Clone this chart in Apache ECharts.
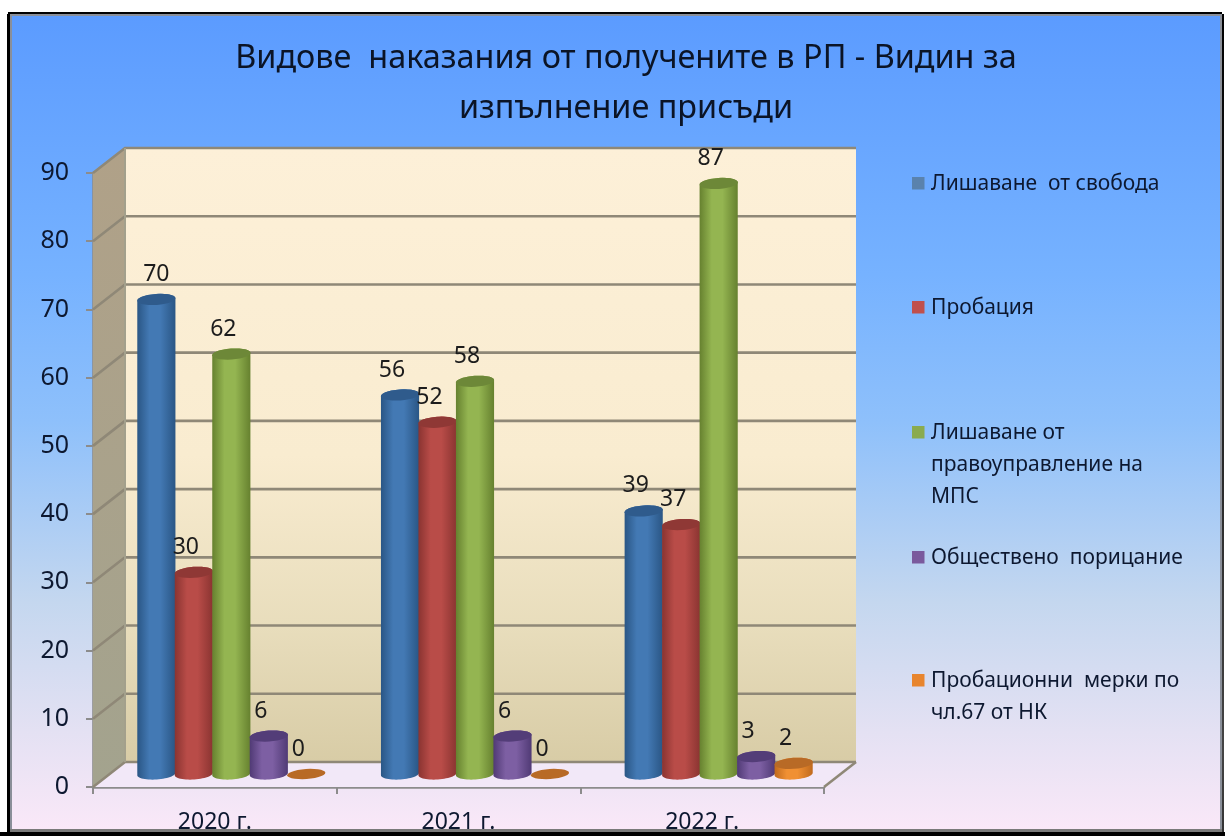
<!DOCTYPE html>
<html><head><meta charset="utf-8">
<style>html,body{margin:0;padding:0;background:#fff}#c{width:1225px;height:836px}</style>
<script src="https://cdn.jsdelivr.net/npm/echarts@6/dist/echarts.min.js"></script>
</head><body><div id="c"></div>
<script>
const titleLines = ['Видове  наказания от получените в РП - Видин за', 'изпълнение присъди'];
const categories = ['2020 г.', '2021 г.', '2022 г.'];
const yTicks = [0, 10, 20, 30, 40, 50, 60, 70, 80, 90];
const seriesNames = ['Лишаване  от свобода', 'Пробация', 'Лишаване от\nправоуправление на\nМПС', 'Обществено  порицание', 'Пробационни  мерки по\nчл.67 от НК'];
const deprivation = [70, 56, 39];
const probation = [30, 52, 37];
const licence = [62, 58, 87];
const censure = [6, 6, 3];
const measures = [0, 0, 2];
const allValues = [deprivation, probation, licence, censure, measures];

const palette = [
  {edge:'#2a5685', mid:'#4379b4', top:'#2f5b8c', key:'#5a82ad'},
  {edge:'#8a3431', mid:'#b94c48', top:'#8f3835', key:'#c0504d'},
  {edge:'#66812f', mid:'#94b551', top:'#6d8838', key:'#8aab4f'},
  {edge:'#503a75', mid:'#7d5fa3', top:'#533d78', key:'#7a5a9d'},
  {edge:'#c06a1e', mid:'#f09033', top:'#b86a26', key:'#e8852e'}
];
const legendY = [183, 307, 432, 557, 680];
const DX = 32, DY = 25;

function arc(cx, cy, rx, ry, tilt, a0, a1) {
  const pts = [], n = 28;
  for (let i = 0; i <= n; i++) {
    const a = a0 + (a1 - a0) * i / n;
    const x = rx * Math.cos(a), y = ry * Math.sin(a);
    pts.push([cx + x * Math.cos(tilt) - y * Math.sin(tilt), cy + x * Math.sin(tilt) + y * Math.cos(tilt)]);
  }
  return pts;
}

function renderWalls(params, api) {
  const cs = params.coordSys;
  const L = cs.x, R = cs.x + cs.width;
  const y0 = api.coord([0, 0])[1], yT = api.coord([0, 90])[1];
  const kids = [
    {type:'polygon', shape:{points:[[L+DX,yT-DY],[R+DX,yT-DY],[R+DX,y0-DY],[L+DX,y0-DY]]},
     style:{fill:{type:'linear',x:0,y:0,x2:0,y2:1,colorStops:[{offset:0,color:'#fdf0d8'},{offset:.5,color:'#f9ecd0'},{offset:.78,color:'#e8ddbc'},{offset:1,color:'#d8cca6'}]}}},
    {type:'polygon', shape:{points:[[L,yT],[L+DX,yT-DY],[L+DX,y0-DY],[L,y0]]},
     style:{fill:{type:'linear',x:0,y:0,x2:0,y2:1,colorStops:[{offset:0,color:'#b0a188'},{offset:1,color:'#a3a38e'}]}}},
    {type:'polygon', shape:{points:[[L,y0],[R,y0],[R+DX,y0-DY],[L+DX,y0-DY]]},
     style:{fill:'#f2e8f8'}}
  ];
  const lineStyle = {stroke:'#8f8877', lineWidth:2.6};
  yTicks.forEach(function (t) {
    const y = api.coord([0, t])[1];
    kids.push({type:'polyline', shape:{points:[[L,y],[L+DX,y-DY],[R+DX,y-DY]]}, style:Object.assign({fill:null}, lineStyle)});
  });
  kids.push({type:'line', shape:{x1:R,y1:y0,x2:R+DX,y2:y0-DY}, style:lineStyle});
  kids.push({type:'line', shape:{x1:L+DX,y1:yT-DY,x2:L+DX,y2:y0-DY}, style:{stroke:'#a3a08c',lineWidth:2}});
  return {type:'group', children:kids};
}

function makeCylinder(si) {
  return function (params, api) {
    const cat = api.value(0), val = api.value(1);
    const p = api.coord([cat, val]), b = api.coord([cat, 0]);
    const step = api.size([1, 0])[0] / 6.5;
    const cx = p[0] + DX / 2 + (si - 2) * step + 0.5;
    const botY = b[1] - DY / 2 - 0.5;
    const topY = val > 0 ? p[1] - DY / 2 + 2.5 : botY;
    const rx = step * 0.51, ry = 5.5, tilt = -0.07;
    const c = palette[si];
    const kids = [];
    if (val > 0) {
      const body = arc(cx, botY, rx, ry, tilt, Math.PI, 0).concat(arc(cx, topY, rx, ry, tilt, 0, -Math.PI));
      kids.push({type:'polygon', shape:{points:body},
        style:{fill:{type:'linear',x:0,y:0,x2:1,y2:0,colorStops:[{offset:0,color:c.edge},{offset:.32,color:c.mid},{offset:.6,color:c.mid},{offset:1,color:c.edge}]}}});
    }
    kids.push({type:'polygon', shape:{points:arc(cx, topY, rx, val > 0 ? ry : 5, tilt, 0, Math.PI * 2)}, style:{fill:c.top}});
    const nudge = (si === 0 && cat === 0) ? 0 : -8;
    kids.push({type:'text', z2:100, style:{text:String(val), x:cx + nudge, y:topY - 25, align:'center', verticalAlign:'middle',
      font:'23px "Noto Sans"', fill:'#1c1c1c'}});
    return {type:'group', children:kids};
  };
}

const series = [{type:'custom', name:'walls', silent:true, z:1, data:[[0, 0]], encode:{x:0, y:1}, renderItem:renderWalls}];
allValues.forEach(function (vals, si) {
  series.push({type:'custom', name:seriesNames[si].replace(/\n/g, ' '), z:2,
    data:vals.map(function (v, i) { return [i, v]; }), encode:{x:0, y:1}, renderItem:makeCylinder(si)});
});

const graphic = [
  {type:'rect', z:-5, shape:{x:9,y:13,width:1213,height:817},
   style:{fill:{type:'linear',x:0,y:0,x2:0,y2:1,colorStops:[
     {offset:0,color:'#5b9bff'},{offset:.32,color:'#76b2ff'},{offset:.5,color:'#8ec0fb'},{offset:.72,color:'#c4d7ef'},{offset:.88,color:'#e4e1f3'},{offset:1,color:'#fae8f8'}]}}},
  {type:'text', z:5, style:{text:titleLines[0], x:626, y:59, align:'center', verticalAlign:'middle', font:'32.4px "Noto Sans"', fill:'#0b1426'}},
  {type:'text', z:5, style:{text:titleLines[1], x:626, y:109, align:'center', verticalAlign:'middle', font:'32.4px "Noto Sans"', fill:'#0b1426'}},
  {type:'rect', z:50, shape:{x:0,y:832,width:1225,height:4}, style:{fill:'#000'}},
  {type:'rect', z:50, shape:{x:9,y:829,width:1213,height:3}, style:{fill:'#7a7a7a'}},
  {type:'rect', z:50, shape:{x:8,y:12,width:1214,height:2}, style:{fill:'#000'}},
  {type:'rect', z:50, shape:{x:9,y:14,width:1213,height:2}, style:{fill:'#8a8f99'}},
  {type:'rect', z:50, shape:{x:7,y:14,width:3,height:818}, style:{fill:'#000'}},
  {type:'rect', z:50, shape:{x:10,y:14,width:2,height:815}, style:{fill:'#8a8f99'}},
  {type:'rect', z:50, shape:{x:1222,y:14,width:2,height:818}, style:{fill:{type:'linear',x:0,y:0,x2:0,y2:1,colorStops:[{offset:0,color:'#000'},{offset:.9,color:'#444'},{offset:1,color:'#333'}]}}},
  {type:'rect', z:50, shape:{x:1220,y:14,width:2,height:815}, style:{fill:'#8a8f99'}}
];
seriesNames.forEach(function (name, i) {
  graphic.push({type:'rect', z:5, shape:{x:912,y:legendY[i]-6,width:12.5,height:12.5}, style:{fill:palette[i].key}});
  name.split('\n').forEach(function (line, k) {
    graphic.push({type:'text', z:5, style:{text:line, x:931, y:legendY[i] + 1.5 + k * 32, align:'left', verticalAlign:'middle', font:'21px "Noto Sans"', fill:'#0d1830'}});
  });
});

const chart = echarts.init(document.getElementById('c'), null, {renderer:'canvas'});
chart.setOption({
  animation:false,
  backgroundColor:'#fff',
  graphic:graphic,
  grid:{left:93, right:401, top:173, bottom:49},
  xAxis:{type:'category', data:categories, boundaryGap:true,
    axisLine:{lineStyle:{color:'#8c8c8c', width:2.6}},
    axisTick:{show:true, alignWithLabel:false, length:7, lineStyle:{color:'#8c8c8c', width:2}},
    axisLabel:{fontFamily:'Noto Sans', fontSize:23, color:'#0d1830', margin:24, showMinLabel:true, showMaxLabel:true},
    splitLine:{show:false}},
  yAxis:{type:'value', min:0, max:90, interval:10,
    axisLine:{show:true, lineStyle:{color:'#8c8c8c', width:2.6}},
    axisTick:{show:true, length:7, lineStyle:{color:'#8c8c8c', width:2}},
    axisLabel:{fontFamily:'Noto Sans', fontSize:25, color:'#0d1830', margin:24, padding:[6,0,0,0]},
    splitLine:{show:false}},
  series:series
});
</script></body></html>
